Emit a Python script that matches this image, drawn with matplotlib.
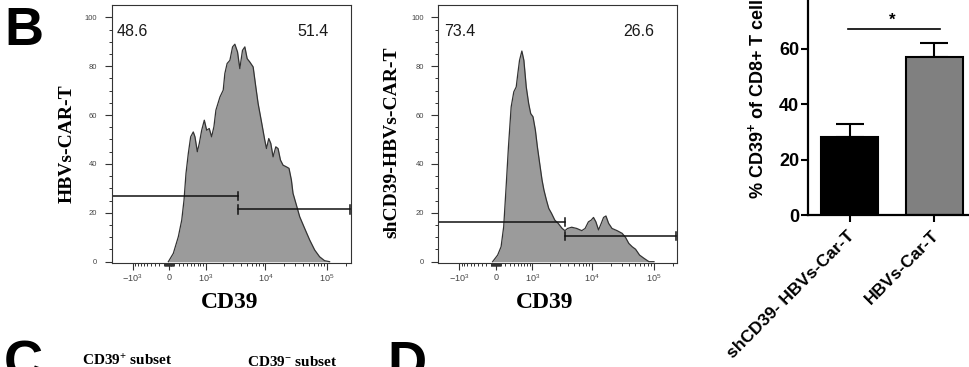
import matplotlib.pyplot as plt
import matplotlib.transforms as mtransforms

plt.rcParams['mathtext.fontset'] = 'custom'
plt.rcParams['mathtext.rm'] = 'Liberation Sans'
plt.rcParams['mathtext.bf'] = 'Liberation Sans:bold'
plt.rcParams['mathtext.sf'] = 'Liberation Serif:bold'
plt.rcParams['mathtext.default'] = 'regular'

W, H = 970, 367

# CD39 histograms (intensity, % of max)
hbv_x = [-14, 88, 194, 270, 323, 371, 430, 493, 567, 618, 693, 760, 847, 950, 1050,
         1169, 1287, 1413, 1529, 1793, 2035, 2167, 2364, 2629, 2909, 3174, 3512, 3827,
         4233, 4623, 5043, 5574, 6310, 6973, 7602, 8622, 9750, 10390, 11310, 12200,
         13290, 14700, 16000, 17490, 19270, 21850, 24070, 26310, 27930, 31680, 35850,
         43170, 51980, 62620, 75350, 90770, 109300]
hbv_y = [0, 3.4, 10.2, 17.0, 25.2, 36.1, 44.3, 51.1, 53.1, 51.1, 45.0, 48.4, 53.8, 57.9,
         53.8, 54.5, 51.1, 55.2, 62.0, 67.4, 70.2, 77.0, 81.1, 82.4, 87.9, 89.0, 85.8,
         79.0, 86.5, 87.9, 83.1, 81.7, 79.7, 71.5, 64.7, 57.2, 49.7, 46.3, 50.4, 48.4,
         42.9, 47.0, 46.3, 41.6, 39.5, 38.8, 38.2, 33.4, 28.0, 23.2, 18.4, 13.6, 8.9,
         4.8, 2.0, 0.4, 0]

sh_x = [-66, 37, 108, 163, 216, 268, 331, 396, 459, 503, 551, 621, 685, 766, 854, 934,
        1030, 1138, 1235, 1356, 1490, 1606, 1771, 1939, 2154, 2447, 2779, 3237, 3590,
        3975, 4630, 5590, 6760, 7650, 8660, 9600, 10470, 11450, 12630, 13990, 15240,
        16670, 18390, 20890, 25220, 30450, 34470, 39000, 44360, 50220, 58350, 68590,
        82830, 99880]
sh_y = [0, 2.7, 6.1, 14.3, 30.7, 47.0, 63.3, 69.5, 71.5, 77.0, 82.4, 86.2, 82.4, 71.5,
        64.7, 60.6, 59.3, 53.8, 47.0, 40.2, 33.4, 29.3, 25.2, 21.8, 19.8, 17.0, 15.7,
        13.6, 12.7, 13.6, 14.1, 13.6, 12.7, 13.6, 16.3, 17.0, 18.1, 16.3, 13.0, 15.7,
        18.1, 18.7, 15.7, 13.6, 12.7, 11.6, 10.0, 7.5, 6.1, 5.1, 2.7, 1.4, 0.0, 0]

gate_split = 3600
gate_right = 230000
hbv_gate_y = [26.8, 21.4]
sh_gate_y = [16.1, 10.6]
hbv_pct = ["48.6", "51.4"]
sh_pct = ["73.4", "26.6"]

x_major = [-1000, 0, 1000, 10000, 100000]
x_major_labels = ["$-10^{3}$", "0", "$10^{3}$", "$10^{4}$", "$10^{5}$"]
x_minor = ([-k * 100 for k in range(1, 10)] + [k * 10 for k in range(-9, 10) if k != 0]
           + [k * 100 for k in range(1, 10)] + [k * 1000 for k in range(2, 10)]
           + [k * 10000 for k in range(2, 10)] + [200000])

# bar chart
groups = ["shCD39- HBVs-Car-T", "HBVs-Car-T"]
means = [28.3, 57.0]
sems = [4.5, 5.0]
bar_colors = ["black", "#808080"]


def box(l, t, r, b):
    return [l / W, 1 - b / H, (r - l) / W, (b - t) / H]


def ftext(x, y, s, **kw):
    fig.text(x / W, 1 - y / H, s, **kw)


def draw_hist(ax, x, y, gate_y, pct):
    ax.set_xscale('asinh', linear_width=550)
    ax.fill_between(x, y, 0, color='#9b9b9b', lw=0)
    ax.plot(x, y, color='#333333', lw=0.9)
    xmin, xmax = -2300, 240000
    ax.set_xlim(xmin, xmax)
    ax.set_ylim(-0.5, 105)
    # gates
    ax.plot([xmin, gate_split], [gate_y[0]] * 2, color='#111111', lw=1.1)
    ax.plot([gate_split] * 2, [gate_y[0] - 1.7, gate_y[0] + 1.7], color='#111111', lw=1.1)
    ax.plot([gate_split, gate_right], [gate_y[1]] * 2, color='#111111', lw=1.1)
    for gx in (gate_split, gate_right):
        ax.plot([gx] * 2, [gate_y[1] - 1.7, gate_y[1] + 1.7], color='#111111', lw=1.1)
    ax.text(0.022, 0.896, pct[0], transform=ax.transAxes, ha='left', va='center',
            fontsize=11.5, family='Liberation Sans', color='#1a1a1a')
    ax.text(0.775, 0.896, pct[1], transform=ax.transAxes, ha='left', va='center',
            fontsize=11.5, family='Liberation Sans', color='#1a1a1a')
    ax.set_xticks(x_major)
    ax.set_xticklabels(x_major_labels)
    ax.set_xticks(x_minor, minor=True)
    ax.set_yticks([0, 20, 40, 60, 80, 100])
    ax.set_yticks([v for v in range(5, 100, 5) if v % 20], minor=True)
    ax.tick_params(axis='both', which='major', direction='out', length=5, width=0.8,
                   color='#333333', labelcolor='#444444')
    ax.tick_params(axis='both', which='minor', direction='out', length=2.5, width=0.7,
                   color='#333333')
    ax.tick_params(axis='x', which='major', labelsize=6.5, pad=2)
    ax.tick_params(axis='y', which='major', labelsize=5.5, pad=5.5)
    for lab in ax.get_xticklabels() + ax.get_yticklabels():
        lab.set_family('Liberation Sans')
    for sp in ax.spines.values():
        sp.set_color('#333333')
        sp.set_linewidth(0.8)


fig = plt.figure(figsize=(W / 100, H / 100), dpi=100)

ax1 = fig.add_axes(box(111.7, 5.1, 350.7, 262.9))
draw_hist(ax1, hbv_x, hbv_y, hbv_gate_y, hbv_pct)
ax2 = fig.add_axes(box(438.5, 5.1, 677.5, 262.9))
draw_hist(ax2, sh_x, sh_y, sh_gate_y, sh_pct)

serif_b = dict(family='Liberation Serif', fontweight='bold')
ftext(67, 143.5, "HBVs-CAR-T", rotation=90, ha='center', va='center', fontsize=14, **serif_b)
ftext(391.7, 142.5, "shCD39-HBVs-CAR-T", rotation=90, ha='center', va='center',
      fontsize=14, **serif_b)
ftext(230, 302, "CD39", ha='center', va='center', fontsize=17, **serif_b)
ftext(544.5, 302, "CD39", ha='center', va='center', fontsize=17, **serif_b)

# bar chart panel
ax3 = fig.add_axes(box(808.3, -6.4, 976, 215))
xs = list(range(len(groups)))
ax3.bar(xs, means, width=0.67, color=bar_colors, edgecolor='black', linewidth=1.5, zorder=2)
ax3.errorbar(xs, means, yerr=[[0] * len(sems), sems], fmt='none', ecolor='black',
             elinewidth=1.5, capsize=10, capthick=1.5, zorder=1)
ax3.set_xlim(-0.49, 1.49)
ax3.set_ylim(0, 80)
ax3.spines['top'].set_visible(False)
ax3.spines['right'].set_visible(False)
ax3.spines['left'].set_linewidth(1.6)
ax3.spines['bottom'].set_linewidth(1.6)
ax3.set_yticks([0, 20, 40, 60, 80])
ax3.set_xticks(xs)
ax3.tick_params(axis='both', direction='out', length=5, width=1.5, pad=1.5)
ax3.set_yticklabels(["0", "20", "40", "60", "80"], fontsize=13, fontweight='bold',
                    family='Liberation Sans')
ax3.set_xticklabels(groups, rotation=45, ha='right', va='top', rotation_mode='anchor',
                    fontsize=12.5, fontweight='bold', family='Liberation Sans')
offset = mtransforms.ScaledTranslation(-3 / 100, -4 / 100, fig.dpi_scale_trans)
for lab in ax3.get_xticklabels():
    lab.set_transform(lab.get_transform() + offset)
ax3.plot([-0.02, 1.06], [67.1, 67.1], color='black', lw=1.2, clip_on=False)
ax3.text(0.5, 67.6, "*", ha='center', va='bottom', fontsize=12, fontweight='bold',
         family='Liberation Sans')
ftext(756.7, 94, "% CD39$^{\\mathbf{+}}$ of CD8+ T cells", rotation=90, ha='center',
      va='center', fontsize=13, fontweight='bold', family='Liberation Sans')

# panel letters and subset titles
ftext(4, 45, "B", ha='left', va='baseline', fontsize=39, fontweight='bold',
      family='Liberation Sans')
ftext(4, 378, "C", ha='left', va='baseline', fontsize=39, fontweight='bold',
      family='Liberation Sans')
ftext(387, 379, "D", ha='left', va='baseline', fontsize=39, fontweight='bold',
      family='Liberation Sans')
ftext(82, 366, "CD39$^{\\mathsf{+}}$ subset", ha='left', va='baseline', fontsize=11, **serif_b)
ftext(247, 366, "CD39$^{\\mathsf{-}}$ subset", ha='left', va='baseline', fontsize=11, **serif_b)

fig.savefig("out.png", dpi=100)
